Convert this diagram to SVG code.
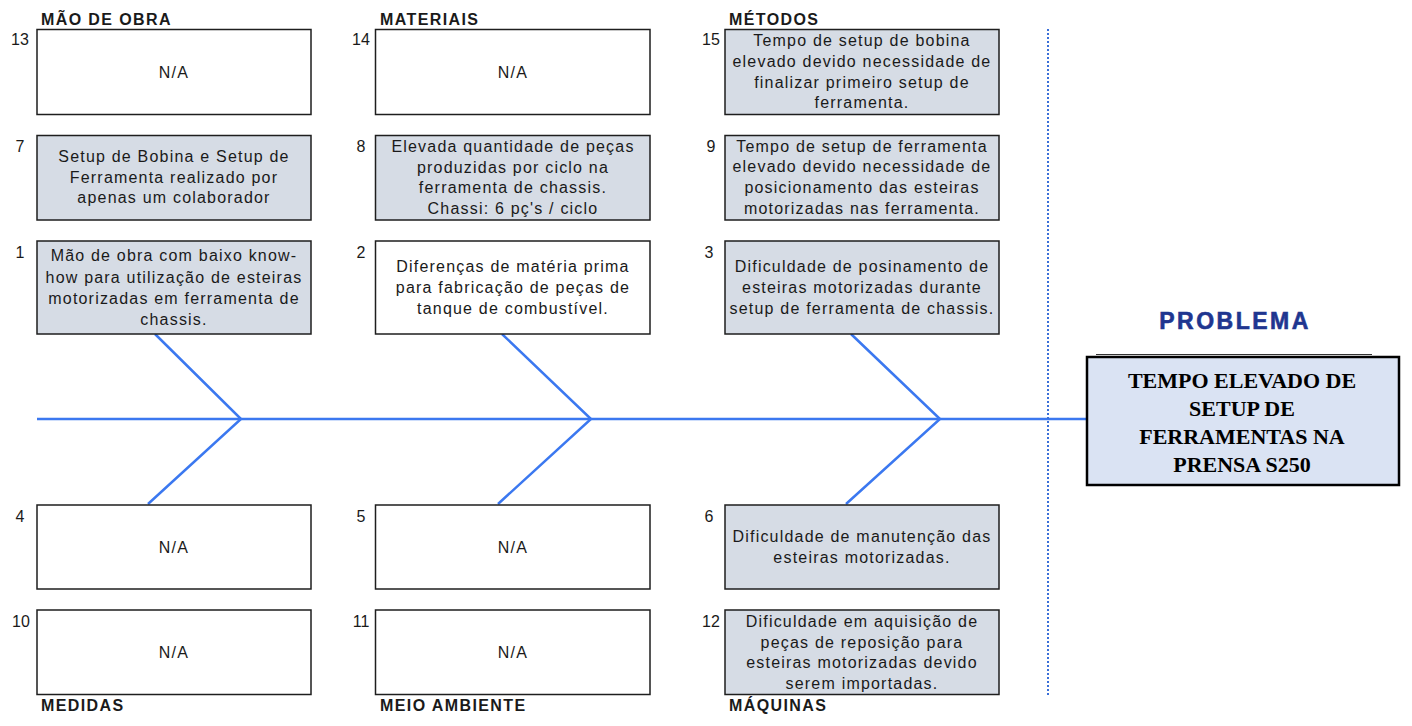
<svg xmlns="http://www.w3.org/2000/svg" width="1412" height="726" viewBox="0 0 1412 726">
<style>
.bx{stroke:#1e1e1e;stroke-width:1.5}
.g{fill:#d6dce5}
.w{fill:#ffffff}
.t{font-family:"Liberation Sans",Arial,sans-serif;font-size:16px;letter-spacing:1.2px;fill:#1a1a1a;text-anchor:middle}
.n{font-family:"Liberation Sans",Arial,sans-serif;font-size:16px;fill:#1a1a1a;text-anchor:middle}
.c{font-family:"Liberation Sans",Arial,sans-serif;font-size:16px;font-weight:bold;letter-spacing:1.4px;fill:#1a1a1a}
.bone{stroke:#3b78f0;stroke-width:2.5;fill:none}
</style>
<rect width="1412" height="726" fill="#ffffff"/>
<g id="connectors">
<line class="bone" x1="37" y1="419" x2="1087" y2="419"/>
<polyline class="bone" points="155,334 241,419 148,504"/>
<polyline class="bone" points="502,334 591,419 498,504"/>
<polyline class="bone" points="851,334 940,419 846,504"/>
<line x1="1048" y1="29" x2="1048" y2="695" stroke="#3a6fd8" stroke-width="2" stroke-dasharray="2,2"/>
</g>
<g id="labels">
<text class="c" x="41" y="25">MÃO DE OBRA</text>
<text class="c" x="380" y="25">MATERIAIS</text>
<text class="c" x="729" y="25">MÉTODOS</text>
<text class="c" x="41" y="711">MEDIDAS</text>
<text class="c" x="380" y="711">MEIO AMBIENTE</text>
<text class="c" x="729" y="711">MÁQUINAS</text>
</g>
<g id="node13">
<rect class="bx w" x="37" y="29.5" width="274" height="85"/>
<text class="n" x="20" y="45">13</text>
<text class="t" x="174" y="78">N/A</text>
</g>
<g id="node14">
<rect class="bx w" x="375.5" y="29.5" width="274.5" height="85"/>
<text class="n" x="361" y="45">14</text>
<text class="t" x="513" y="78">N/A</text>
</g>
<g id="node15">
<rect class="bx g" x="725" y="29.5" width="274" height="85"/>
<text class="n" x="711" y="45">15</text>
<text class="t" x="862" y="46">Tempo de setup de bobina</text>
<text class="t" x="862" y="67">elevado devido necessidade de</text>
<text class="t" x="862" y="88">finalizar primeiro setup de</text>
<text class="t" x="862" y="108">ferramenta.</text>
</g>
<g id="node7">
<rect class="bx g" x="37" y="135.5" width="274" height="84.5"/>
<text class="n" x="20" y="152">7</text>
<text class="t" x="174" y="162">Setup de Bobina e Setup de</text>
<text class="t" x="174" y="183">Ferramenta realizado por</text>
<text class="t" x="174" y="203">apenas um colaborador</text>
</g>
<g id="node8">
<rect class="bx g" x="375.5" y="135.5" width="274.5" height="84.5"/>
<text class="n" x="361" y="152">8</text>
<text class="t" x="513" y="152">Elevada quantidade de peças</text>
<text class="t" x="513" y="173">produzidas por ciclo na</text>
<text class="t" x="513" y="193">ferramenta de chassis.</text>
<text class="t" x="513" y="214">Chassi: 6 pç's / ciclo</text>
</g>
<g id="node9">
<rect class="bx g" x="725" y="135.5" width="274" height="84.5"/>
<text class="n" x="711" y="152">9</text>
<text class="t" x="862" y="152">Tempo de setup de ferramenta</text>
<text class="t" x="862" y="172">elevado devido necessidade de</text>
<text class="t" x="862" y="193">posicionamento das esteiras</text>
<text class="t" x="862" y="214">motorizadas nas ferramenta.</text>
</g>
<g id="node1">
<rect class="bx g" x="37" y="241" width="274" height="93"/>
<text class="n" x="20" y="258">1</text>
<text class="t" x="174" y="261">Mão de obra com baixo know-</text>
<text class="t" x="174" y="283">how para utilização de esteiras</text>
<text class="t" x="174" y="304">motorizadas em ferramenta de</text>
<text class="t" x="174" y="325">chassis.</text>
</g>
<g id="node2">
<rect class="bx w" x="375.5" y="241" width="274.5" height="93"/>
<text class="n" x="361" y="258">2</text>
<text class="t" x="513" y="272">Diferenças de matéria prima</text>
<text class="t" x="513" y="293">para fabricação de peças de</text>
<text class="t" x="513" y="314">tanque de combustível.</text>
</g>
<g id="node3">
<rect class="bx g" x="725" y="241" width="274" height="93"/>
<text class="n" x="709" y="258">3</text>
<text class="t" x="862" y="272">Dificuldade de posinamento de</text>
<text class="t" x="862" y="293">esteiras motorizadas durante</text>
<text class="t" x="862" y="314">setup de ferramenta de chassis.</text>
</g>
<g id="node4">
<rect class="bx w" x="37" y="505" width="274" height="84"/>
<text class="n" x="20" y="522">4</text>
<text class="t" x="174" y="553">N/A</text>
</g>
<g id="node5">
<rect class="bx w" x="375.5" y="505" width="274.5" height="84"/>
<text class="n" x="361" y="522">5</text>
<text class="t" x="513" y="553">N/A</text>
</g>
<g id="node6">
<rect class="bx g" x="725" y="505" width="274" height="84"/>
<text class="n" x="709" y="522">6</text>
<text class="t" x="862" y="542">Dificuldade de manutenção das</text>
<text class="t" x="862" y="563">esteiras motorizadas.</text>
</g>
<g id="node10">
<rect class="bx w" x="37" y="610" width="274" height="84.5"/>
<text class="n" x="21" y="627">10</text>
<text class="t" x="174" y="658">N/A</text>
</g>
<g id="node11">
<rect class="bx w" x="375.5" y="610" width="274.5" height="84.5"/>
<text class="n" x="361" y="627">11</text>
<text class="t" x="513" y="658">N/A</text>
</g>
<g id="node12">
<rect class="bx g" x="725" y="610" width="274" height="84.5"/>
<text class="n" x="711" y="627">12</text>
<text class="t" x="862" y="627">Dificuldade em aquisição de</text>
<text class="t" x="862" y="648">peças de reposição para</text>
<text class="t" x="862" y="668">esteiras motorizadas devido</text>
<text class="t" x="862" y="689">serem importadas.</text>
</g>
<g id="problem">
<text x="1235" y="329" font-family="'Liberation Sans',Arial,sans-serif" font-size="23" font-weight="bold" letter-spacing="2.5" fill="#1f3690" stroke="#1f3690" stroke-width="0.6" text-anchor="middle">PROBLEMA</text>
<line x1="1096" y1="354.5" x2="1372" y2="354.5" stroke="#333" stroke-width="1"/>
<rect x="1087" y="357" width="312" height="128" fill="#dae3f3" stroke="#000" stroke-width="2.5"/>
<g font-family="'Liberation Serif','Times New Roman',serif" font-size="22" font-weight="bold" fill="#000" text-anchor="middle">
<text x="1242" y="388">TEMPO ELEVADO DE</text>
<text x="1242" y="416">SETUP DE</text>
<text x="1242" y="444">FERRAMENTAS NA</text>
<text x="1242" y="472">PRENSA S250</text>
</g>
</g>
</svg>
